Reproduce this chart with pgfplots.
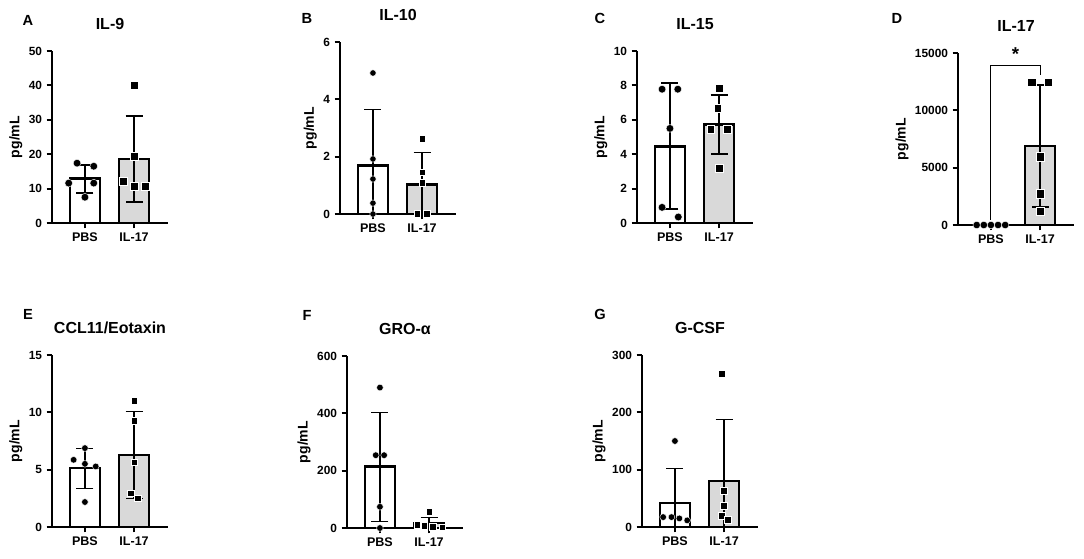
\documentclass[border=0pt]{standalone}
\usepackage{fontspec}
\setmainfont{Liberation Sans}
\usepackage{pgfplots}
\pgfplotsset{compat=1.18}
\definecolor{barg}{RGB}{217,217,217}
\pgfplotsset{
 panel/.style={
  scale only axis, width=87pt, height=129pt,
  xmin=-0.67, xmax=1.69, ymin=0,
  axis x line*=bottom, axis y line*=left,
  axis line style={-, line width=1.5pt, black},
  xtick={0,1}, xticklabels={PBS,IL-17},
  tick align=outside, major tick length=4pt,
  every tick/.style={black, line width=1.5pt},
  x tick label style={font=\bfseries\fontsize{9.4}{10}\selectfont},
  y tick label style={font=\bfseries\fontsize{8.9}{10}\selectfont},
  /pgf/number format/assume math mode=true,
  /pgf/number format/1000 sep={},
  scaled y ticks=false,
  ylabel={pg/mL}, ylabel style={font=\bfseries\fontsize{10.5}{12}\selectfont, xshift=0pt, yshift=-2pt},
  title style={font=\bfseries\fontsize{12}{14}\selectfont, at={(0.5,1)}, anchor=center, yshift=14pt},
  clip=false,
  anchor=south west,
 },
 pbsbar/.style={ybar, bar width=22.5pt, fill=white, draw=black, line width=2pt, forget plot},
 ilbar/.style={ybar, bar width=22.5pt, fill=barg, draw=black, line width=2pt, forget plot},
 err/.style={draw=none, mark=none, forget plot, error bars/.cd, y dir=both, y explicit,
   error mark=|,
   error bar style={draw=black, solid, line width=#1},
   error mark options={draw=black, solid, line width=#1, mark size=6.4pt}},
 dots/.style={only marks, mark=*, mark size=#1, mark options={fill=black, draw=white, line width=0.3pt}, forget plot},
 sqs/.style={only marks, mark=square*, mark size=#1, mark options={fill=black, draw=white, line width=0.3pt}, forget plot},
}
\begin{document}
\begin{tikzpicture}
\path[use as bounding box] (0,0) rectangle (813pt,-418.5pt);
\tikzset{lett/.style={font=\bfseries\fontsize{11}{13}\selectfont, anchor=center}}
\node[lett] at (21pt,-15pt) {A};
\node[lett] at (230.25pt,-13.5pt) {B};
\node[lett] at (450pt,-13.5pt) {C};
\node[lett] at (672.75pt,-13.5pt) {D};
\node[lett] at (21pt,-235.5pt) {E};
\node[lett] at (230.25pt,-236.25pt) {F};
\node[lett] at (450pt,-235.5pt) {G};

% A: IL-9
\begin{axis}[panel, at={(39pt,-167.25pt)}, ymax=50, ytick={0,10,20,30,40,50}, title={IL-9}]
\addplot[pbsbar] coordinates {(0,12.9)};
\addplot[ilbar] coordinates {(1,18.6)};
\addplot[err=1.5pt] coordinates {(0,12.9) += (0,4.0) -= (0,4.1) (1,18.6) += (0,12.6) -= (0,12.6)};
\addplot[dots=2.9pt] coordinates {(-0.16,17.4)(0.18,16.5)(-0.33,11.6)(0.18,11.6)(0,7.5)};
\addplot[sqs=3.1pt] coordinates {(1,40.1)(1,19.4)(0.78,12.2)(1,10.6)(1.22,10.6)};
\end{axis}

% B: IL-10
\begin{axis}[panel, at={(255pt,-160.5pt)}, ymax=6, ytick={0,2,4,6}, title={IL-10}]
\addplot[pbsbar] coordinates {(0,1.69)};
\addplot[ilbar] coordinates {(1,1.04)};
\addplot[err=0.9pt] coordinates {(0,1.69) += (0,1.96) -= (0,1.69) (1,1.04) += (0,1.10) -= (0,1.04)};
\addplot[dots=2.4pt] coordinates {(0,4.92)(0,1.92)(0,1.22)(0,0.38)(0,0)};
\addplot[sqs=2.5pt] coordinates {(1,2.63)(1,1.46)(1,1.10)(0.9,0)(1.1,0)};
\end{axis}

% C: IL-15
\begin{axis}[panel, at={(477.75pt,-167.25pt)}, ymax=10, ytick={0,2,4,6,8,10}, title={IL-15}]
\addplot[pbsbar] coordinates {(0,4.46)};
\addplot[ilbar] coordinates {(1,5.72)};
\addplot[err=1.5pt] coordinates {(0,4.46) += (0,3.69) -= (0,3.65) (1,5.72) += (0,1.71) -= (0,1.70)};
\addplot[dots=2.9pt] coordinates {(-0.16,7.78)(0.16,7.78)(0,5.5)(-0.16,0.91)(0.17,0.35)};
\addplot[sqs=2.9pt] coordinates {(1,7.82)(0.97,6.66)(0.83,5.46)(1.17,5.46)(1,3.19)};
\end{axis}

% D: IL-17
\begin{axis}[panel, at={(718.5pt,-168.75pt)}, ymax=15000, ytick={0,5000,10000,15000}, title={IL-17}]
\addplot[ilbar] coordinates {(1,6900)};
\addplot[err=1.5pt] coordinates {(1,6900) += (0,5290) -= (0,5290)};
\addplot[black, line width=0.8pt, forget plot] coordinates {(0,480)(0,13930)(1,13930)(1,13060)};
\addplot[dots=2.8pt] coordinates {(-0.29,0)(-0.145,0)(0,0)(0.145,0)(0.29,0)};
\addplot[sqs=3.1pt] coordinates {(0.83,12482)(1.17,12482)(1,5966)(1,2722)(1,1216)};
\node[font=\bfseries\fontsize{14}{16}\selectfont] at (axis cs:0.5,14900) {*};
\end{axis}

% E: CCL11/Eotaxin
\begin{axis}[panel, at={(39pt,-395.25pt)}, ymax=15, ytick={0,5,10,15}, title={CCL11/Eotaxin}]
\addplot[pbsbar] coordinates {(0,5.14)};
\addplot[ilbar] coordinates {(1,6.29)};
\addplot[err=0.9pt] coordinates {(0,5.14) += (0,1.74) -= (0,1.75) (1,6.29) += (0,3.78) -= (0,3.77)};
\addplot[dots=2.5pt] coordinates {(0,6.88)(-0.23,5.86)(0,5.51)(0.22,5.28)(0,2.18)};
\addplot[sqs=2.5pt] coordinates {(1,11.02)(1,9.28)(1,5.66)(0.93,2.96)(1.07,2.52)};
\end{axis}

% F: GRO-alpha
\begin{axis}[panel, at={(260.25pt,-396pt)}, ymax=600, ytick={0,200,400,600}, title={GRO-α}]
\addplot[pbsbar] coordinates {(0,214)};
\addplot[ilbar] coordinates {(1,17)};
\addplot[err=0.9pt] coordinates {(0,214) += (0,190) -= (0,190) (1,17) += (0,21) -= (0,17)};
\addplot[dots=2.5pt] coordinates {(0,490)(-0.085,254)(0.085,254)(0,74)(0,0)};
\addplot[sqs=2.5pt] coordinates {(1,56)(0.755,12)(0.9,8)(1.08,5)(1.27,3)};
\end{axis}

% G: G-CSF
\begin{axis}[panel, at={(481.5pt,-395.25pt)}, ymax=300, ytick={0,100,200,300}, title={G-CSF}]
\addplot[pbsbar] coordinates {(0,42)};
\addplot[ilbar] coordinates {(1,80)};
\addplot[err=0.9pt] coordinates {(0,42) += (0,60) -= (0,42) (1,80) += (0,107) -= (0,80)};
\addplot[dots=2.5pt] coordinates {(0,150)(-0.24,17.3)(-0.07,17.3)(0.09,15)(0.25,11.6)};
\addplot[sqs=2.7pt] coordinates {(0.95,267)(1,63.6)(1,37)(0.95,20)(1.08,12.7)};
\end{axis}
\end{tikzpicture}
\end{document}
